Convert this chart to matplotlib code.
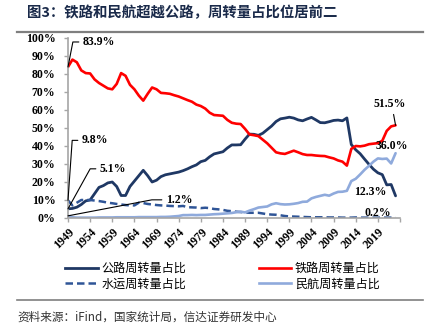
import numpy as np
import matplotlib
matplotlib.use('Agg')
import matplotlib.pyplot as plt
from matplotlib.lines import Line2D

# 数据：1949-2023 年各运输方式旅客周转量占比（%）
years = list(range(1949, 2024))

road = [5.1, 5.3, 6.0, 7.5, 9.5, 10.0, 13.5, 17.0, 18.0, 19.5,
        20.0, 17.5, 12.5, 12.5, 17.5, 20.5, 23.5, 26.5, 23.5, 20.0,
        21.0, 23.0, 24.0, 24.5, 25.0, 25.5, 26.3, 27.3, 28.5, 29.5,
        31.3, 32.0, 34.0, 35.6, 36.2, 36.8, 38.9, 40.6, 40.6, 40.7,
        43.8, 46.6, 46.5, 45.9, 47.1, 49.1, 51.1, 53.6, 55.1, 55.5,
        56.0, 55.5, 54.5, 54.0, 55.0, 55.9, 54.5, 53.0, 52.9, 53.5,
        54.2, 54.4, 54.0, 55.6, 40.8, 37.9, 35.7, 32.7, 29.8, 27.1,
        25.1, 24.1, 18.4, 18.6, 12.3]

rail = [83.9, 88.0, 86.5, 82.0, 80.5, 80.3, 77.0, 75.0, 73.5, 72.0,
        71.5, 74.5, 80.5, 79.0, 74.0, 71.5, 68.0, 65.2, 69.0, 72.5,
        71.5, 69.5, 69.3, 69.0, 68.2, 67.5, 66.5, 65.5, 64.6, 63.0,
        62.2, 60.8, 58.5, 57.2, 57.0, 56.8, 54.5, 52.9, 52.4, 52.2,
        49.5, 46.4, 46.0, 45.5, 43.5, 41.5, 39.0, 36.5, 35.9, 35.6,
        36.5, 37.4, 36.5, 35.5, 35.0, 35.0, 34.7, 34.5, 34.4, 33.7,
        33.1, 32.0, 31.3, 29.1, 38.4, 40.0, 39.8, 40.2, 41.0, 41.3,
        41.6, 42.9, 48.4, 50.9, 51.5]

water = [9.8, 7.0, 8.5, 10.0, 10.0, 10.0, 9.7, 9.4, 9.0, 8.5,
         8.2, 7.8, 7.5, 7.2, 7.0, 7.0, 8.5, 8.3, 7.8, 7.5,
         7.2, 7.0, 6.9, 6.7, 6.6, 6.5, 6.7, 6.0, 5.9, 5.8,
         5.5, 5.7, 5.5, 5.0, 4.8, 4.5, 4.0, 3.8, 3.5, 3.3,
         3.1, 2.9, 2.9, 2.9, 2.5, 2.1, 1.9, 1.8, 1.5, 1.1,
         0.9, 0.8, 0.7, 0.6, 0.5, 0.4, 0.4, 0.4, 0.4, 0.3,
         0.3, 0.3, 0.2, 0.2, 0.2, 0.3, 0.2, 0.2, 0.2, 0.2,
         0.2, 0.2, 0.2, 0.2, 0.2]

air = [1.2, 0.4, 0.2, 0.2, 0.2, 0.2, 0.2, 0.3, 0.3, 0.3,
       0.3, 0.4, 0.4, 0.4, 0.4, 0.4, 0.5, 0.5, 0.5, 0.5,
       0.5, 0.6, 0.6, 0.7, 0.9, 1.1, 1.6, 1.6, 1.7, 1.6,
       1.7, 1.7, 1.9, 2.1, 2.2, 2.4, 2.6, 2.8, 3.2, 3.5,
       3.1, 4.1, 4.9, 5.8, 6.1, 6.4, 7.6, 8.2, 7.7, 7.5,
       7.6, 7.9, 8.3, 9.0, 9.1, 10.9, 11.7, 12.3, 12.9, 12.4,
       13.6, 14.5, 14.6, 15.1, 20.5, 21.8, 24.2, 26.8, 29.0, 31.3,
       33.1, 32.8, 33.0, 30.3, 36.0]

labels = ['公路周转量占比', '水运周转量占比', '铁路周转量占比', '民航周转量占比']
tick_years = list(range(1949, 2025, 5))

cjk = ['Noto Sans CJK SC', 'DejaVu Sans']
serif = 'Liberation Serif'

c_road = '#1f3864'
c_rail = '#ff0000'
c_water = '#2f5597'
c_air = '#8faadc'

fig = plt.figure(figsize=(4.33, 3.35), dpi=100)
ax = fig.add_axes([68 / 433, 1 - 218 / 335, 332 / 433, 180 / 335])

ax.plot(years, road, color=c_road, lw=2.0, solid_capstyle='round')
ax.plot(years, rail, color=c_rail, lw=1.9, solid_capstyle='round')
ax.plot(years, water, color=c_water, lw=1.8, linestyle=(0, (3, 1.6)))
ax.plot(years, air, color=c_air, lw=1.9, solid_capstyle='round')

ax.set_xlim(1949, 2024)
ax.set_ylim(0, 100)
ax.set_yticks(range(0, 101, 10))
ax.set_yticklabels([f'{v}%' for v in range(0, 101, 10)],
                   fontfamily=serif, fontweight='bold', fontsize=8.5)
ax.set_xticks(tick_years)
ax.set_xticklabels([str(y) if y < 2024 else '' for y in tick_years],
                   rotation=45, ha='right', rotation_mode='anchor',
                   fontfamily=serif, fontweight='bold', fontsize=8.5)
ax.tick_params(axis='y', length=3, width=1, color='#a6a6a6', pad=6)
ax.tick_params(axis='x', length=3, width=1, color='#a6a6a6', pad=3)
for s in ['top', 'right']:
    ax.spines[s].set_visible(False)
for s in ['left', 'bottom']:
    ax.spines[s].set_color('#a6a6a6')
    ax.spines[s].set_linewidth(1.2)

# 标注
lab_kw = dict(fontfamily=serif, fontweight='bold', fontsize=8.5,
              textcoords='offset pixels', va='center')
line_kw = dict(arrowstyle='-', color='black', lw=0.8, shrinkA=1, shrinkB=0)

def lead(txt, x, y, dx, dy, angle):
    ax.annotate(txt, xy=(x, y), xytext=(dx, dy), ha='left',
                arrowprops=dict(connectionstyle=f'angle,angleA=0,angleB={angle},rad=0',
                                relpos=(0, 0.5), **line_kw), **lab_kw)

lead(f'{rail[0]}%', years[0], rail[0], 15, 25, 79)
lead(f'{water[0]}%', years[0], water[0], 14, 60, 86)
lead(f'{road[0]}%', years[0], road[0], 32, 40, 61)
lead(f'{air[0]}%', years[0], air[0], 98, 16, 10.8)

ax.annotate(f'{rail[-1]}%', xy=(years[-1], rail[-1]), xytext=(-6, 21),
            ha='center', arrowprops=dict(relpos=(0.6, 0), **line_kw), **lab_kw)
ax.annotate(f'{air[-1]}%', xy=(years[-1], air[-1]), xytext=(-20, 7), ha='left', **lab_kw)
ax.annotate(f'{road[-1]}%', xy=(years[-1], road[-1]), xytext=(-41, 4), ha='left', **lab_kw)
ax.annotate(f'{water[-1]}%', xy=(years[-1], water[-1]), xytext=(-31, 5), ha='left', **lab_kw)

# 图例
handles = [Line2D([], [], color=c_road, lw=2.0),
           Line2D([], [], color=c_water, lw=1.8, linestyle=(0, (3, 1.6))),
           Line2D([], [], color=c_rail, lw=1.9),
           Line2D([], [], color=c_air, lw=1.9)]
fig.legend(handles, labels, loc='upper left', bbox_to_anchor=(65 / 433, 1 - 262 / 335),
           ncol=2, frameon=False, borderpad=0, borderaxespad=0, handlelength=2.7,
           handletextpad=0.3, columnspacing=6.0, labelspacing=0.2,
           prop=dict(family=cjk, size=8.7))

# 标题与来源
fig.text(27 / 433, 1 - 13 / 335, '图3：铁路和民航超越公路，周转量占比位居前二',
         fontfamily=cjk, fontweight='bold', fontsize=10.4, color='#1a2a4a',
         ha='left', va='center')
fig.add_artist(Line2D([17 / 433, 423 / 433], [1 - 32 / 335, 1 - 32 / 335],
                      color='#7f7f7f', lw=1.6))
fig.add_artist(Line2D([17 / 433, 423 / 433], [1 - 300 / 335, 1 - 300 / 335],
                      color='#7f7f7f', lw=1.2))
fig.text(17 / 433, 1 - 317 / 335, '资料来源：iFind，国家统计局，信达证券研发中心',
         fontfamily=cjk, fontsize=8.4, color='#333333', ha='left', va='center',
         style='italic')

fig.savefig('out.png', dpi=100)
